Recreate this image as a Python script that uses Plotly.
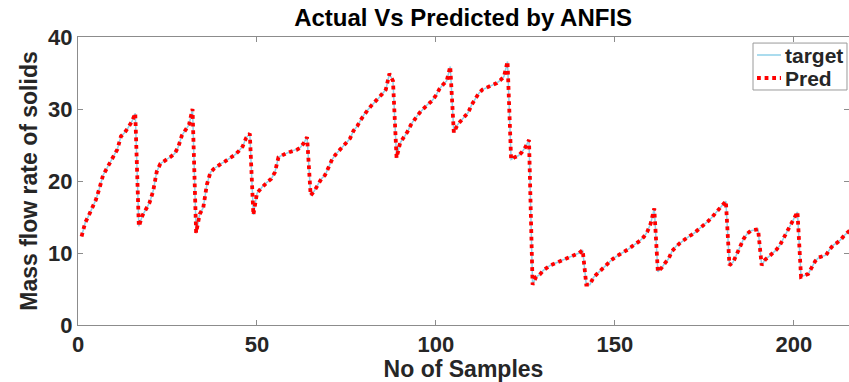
import plotly.graph_objects as go

# Mass flow rate of solids per sample: measured target and ANFIS prediction
samples = list(range(1, 217))

target = [
    12.3, 14.2, 15.2, 16.2, 17.4, 19.0, 20.8, 21.7, 22.6, 23.4, 24.4, 26.2, 26.7, 27.4, 28.2, 29.4,
    13.7, 15.2, 16.2, 17.0, 18.6, 21.3, 22.4, 22.7, 23.0, 23.4, 23.8, 24.7, 26.3, 27.0, 27.8, 30.0,
    12.8, 15.4, 16.3, 19.5, 21.2, 21.7, 22.1, 22.4, 22.7, 23.0, 23.3, 23.7, 24.2, 24.8, 26.0, 26.6,
    15.3, 18.3, 18.9, 19.5, 19.9, 20.3, 21.2, 23.3, 23.6, 23.8, 24.0, 24.1, 24.3, 24.6, 25.2, 26.1,
    18.0, 18.6, 19.5, 20.3, 20.8, 22.0, 23.0, 23.7, 24.3, 24.8, 25.3, 25.9, 27.0, 27.6, 28.5, 29.3,
    29.9, 30.5, 31.0, 31.5, 32.1, 32.7, 34.9, 33.9,
    23.2, 25.3, 26.0, 26.8, 27.8, 28.6, 29.2, 29.8, 30.3, 30.8, 31.2, 31.9, 32.8, 33.4, 33.9, 35.9,
    26.7, 27.8, 28.4, 28.9, 29.5, 30.6, 31.5, 32.2, 32.7, 32.9, 33.1, 33.4, 33.6, 34.0, 34.5, 36.6,
    23.0, 23.3, 23.5, 24.0, 24.7, 25.7,
    5.6, 6.7, 7.0, 7.6, 8.0, 8.3, 8.5, 8.7, 8.9, 9.1, 9.3, 9.5, 9.7, 10.0, 10.4,
    5.6, 5.6, 6.6, 7.1, 7.6, 8.1, 8.6, 9.0, 9.4, 9.7, 9.9, 10.2, 10.6, 11.0, 11.3, 11.7,
    12.2, 12.9, 14.1, 16.2,
    7.4, 7.9, 8.6, 9.2, 10.3, 10.9, 11.3, 11.7, 12.1, 12.4, 12.7, 13.1, 13.5, 13.9, 14.4, 14.9,
    15.5, 16.1, 16.6, 17.2,
    8.3, 8.7, 9.8, 11.0, 12.0, 12.7, 13.1, 13.2, 13.3,
    8.3, 9.1, 9.5, 9.9, 10.4, 11.0, 11.9, 12.8, 13.8, 14.6, 15.7,
    6.7, 6.9, 7.1, 8.0, 8.9, 9.4, 9.5, 9.7, 10.5, 11.1, 11.4, 11.8, 12.4, 12.8, 13.3,
]
pred = list(target)

x_ticks = [0, 50, 100, 150, 200]
y_ticks = [0, 10, 20, 30, 40]
series_names = ["target", "Pred"]

FONT = "Liberation Sans, Arial, sans-serif"
INK = "#262626"
TARGET_COLOR = "#8fd0e8"
PRED_COLOR = "#ff0000"

fig = go.Figure()
fig.add_trace(go.Scatter(
    x=samples, y=target, mode="lines", name=series_names[0],
    line=dict(color=TARGET_COLOR, width=1.5), showlegend=False,
))
fig.add_trace(go.Scatter(
    x=samples, y=pred, mode="lines", name=series_names[1],
    line=dict(color=PRED_COLOR, width=3.8, dash="dot"), showlegend=False,
))

axis_common = dict(
    showgrid=False, zeroline=False, showline=True, linecolor="#8c8c8c", linewidth=1,
    mirror="ticks", ticks="inside", ticklen=5, tickcolor="#8c8c8c",
    tickfont=dict(family=FONT, size=22, color=INK, weight="bold"),
)

# Compact boxed legend in the upper-right corner (paper coordinates)
box = dict(x0=0.8755, x1=0.9974, y0=0.816, y1=0.979)
fig.add_shape(type="rect", xref="paper", yref="paper", **box,
              line=dict(color="#9a9a9a", width=1), fillcolor="white", layer="above")
legend_rows = [
    (series_names[0], 0.9375, dict(color=TARGET_COLOR, width=1.5)),
    (series_names[1], 0.8576, dict(color=PRED_COLOR, width=3.8, dash="dot")),
]
for label, yy, style in legend_rows:
    fig.add_shape(type="line", xref="paper", yref="paper",
                  x0=0.8807, x1=0.9118, y0=yy, y1=yy, line=style, layer="above")
    fig.add_annotation(
        xref="paper", yref="paper", x=0.9144, y=yy, xanchor="left", yanchor="middle",
        text=label, showarrow=False,
        font=dict(family=FONT, size=21, color=INK, weight="bold"),
    )

fig.update_layout(
    width=849, height=382,
    margin=dict(l=78, r=0, t=37, b=57),
    paper_bgcolor="white", plot_bgcolor="white",
    title=dict(
        text="Actual Vs Predicted by ANFIS",
        x=0.5455, xanchor="center", y=0.955, yanchor="middle",
        font=dict(family=FONT, size=24, color="#000000", weight="bold"),
    ),
    xaxis=dict(
        range=[0, 215.4], tickvals=x_ticks,
        title=dict(text="No of Samples", standoff=4,
                   font=dict(family=FONT, size=23, color=INK, weight="bold")),
        **axis_common,
    ),
    yaxis=dict(
        range=[0, 40], tickvals=y_ticks,
        title=dict(text="Mass flow rate of solids", standoff=4,
                   font=dict(family=FONT, size=23, color=INK, weight="bold")),
        **axis_common,
    ),
    showlegend=False,
)

fig.write_html("out.html")
